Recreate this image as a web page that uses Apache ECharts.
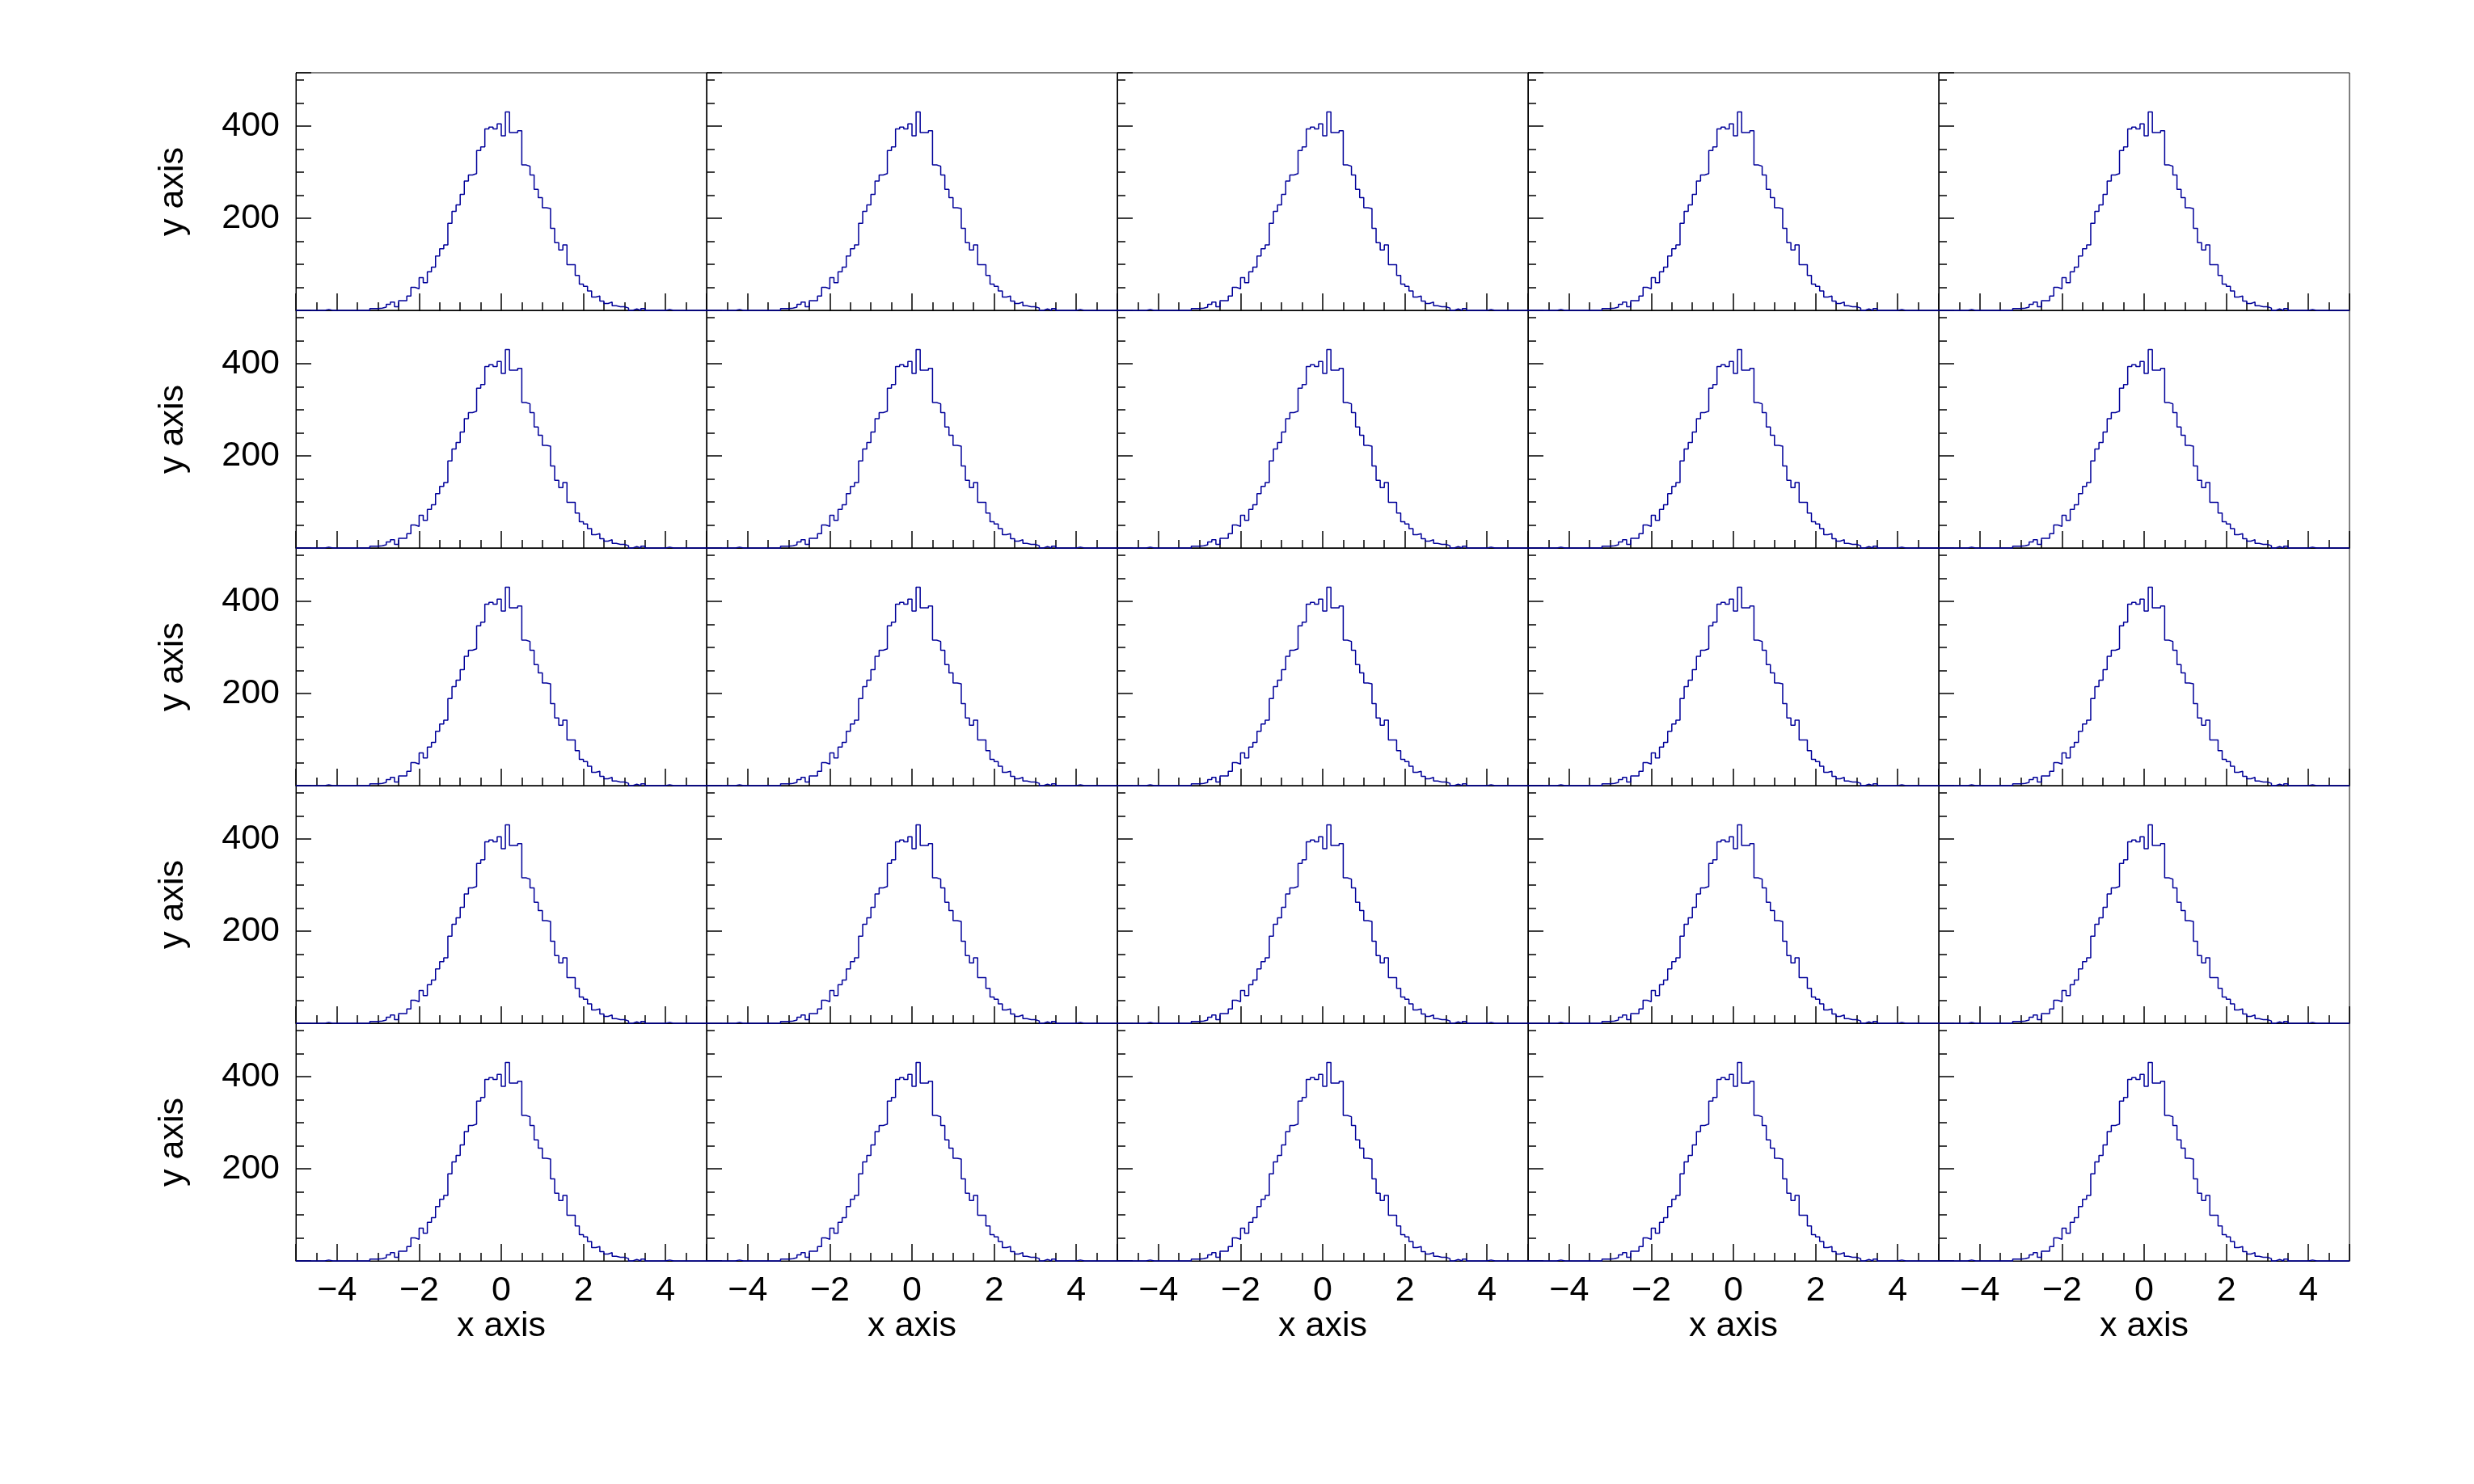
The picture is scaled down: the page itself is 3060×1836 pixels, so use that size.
<!DOCTYPE html>
<html>
<head>
<meta charset="utf-8">
<script src="https://cdn.jsdelivr.net/npm/echarts@6/dist/echarts.min.js"></script>
<style>
html,body{margin:0;padding:0;background:#fff;}
#chart{width:3060px;height:1836px;}
</style>
</head>
<body>
<div id="chart"></div>
<script>
// Histogram definition: 100 bins from -5 to 5
const binLow = -5;
const binWidth = 0.1;
// Bin contents (same histogram drawn in every pad)
const counts = [
  0,0,0,0,0,0,0,2,0,0,
  0,0,0,0,0,0,0,0,4,4,
  5,7,13,18,8,21,21,31,50,47,
  71,60,84,94,118,134,142,189,215,229,
  252,281,294,297,347,355,394,398,394,405,
  379,431,386,386,390,316,313,294,263,245,
  223,221,178,147,131,142,99,99,76,57,
  52,42,29,31,20,15,18,10,8,8,
  5,0,3,0,4,0,0,0,0,0,
  2,0,0,0,0,0,0,0,0,0
];
const xLabelValues = [-4, -2, 0, 2, 4];
const yLabelValues = [200, 400];
const xTitle = 'x axis';
const yTitle = 'y axis';
const nCols = 5, nRows = 5;

const FONT = '"Liberation Sans", Arial, Helvetica, sans-serif';
const padLeft = 366, padTop = 90, padW = 508, padH = 294;

function fmtX(v) {
  const r = Math.round(v * 100) / 100;
  if (xLabelValues.indexOf(r) < 0) return '';
  return r < 0 ? '\u2212' + (-r) : String(r);
}
function fmtY(v) {
  return yLabelValues.indexOf(Math.round(v)) >= 0 ? String(Math.round(v)) : '';
}

const histData = [];
for (let i = 0; i < counts.length; i++) {
  histData.push([Math.round((binLow + binWidth * i) * 100) / 100, counts[i]]);
}
histData.push([Math.round((binLow + binWidth * counts.length) * 100) / 100, counts[counts.length - 1]]);

const grids = [], xAxes = [], yAxes = [], series = [];
for (let r = 0; r < nRows; r++) {
  for (let c = 0; c < nCols; c++) {
    const k = r * nCols + c;
    grids.push({
      left: padLeft + c * padW, top: padTop + r * padH, width: padW, height: padH,
      show: true, borderColor: '#000', borderWidth: 1, backgroundColor: 'transparent',
      containLabel: false
    });
    const bottomRow = (r === nRows - 1);
    const leftCol = (c === 0);
    xAxes.push({
      gridIndex: k, type: 'value', min: -5, max: 5, splitNumber: 5,
      minInterval: 2, maxInterval: 2,
      axisLine: { show: true, onZero: false, lineStyle: { color: '#000', width: 1 } },
      axisTick: { show: true, inside: true, length: 21, lineStyle: { color: '#000', width: 1.5 } },
      minorTick: { show: true, splitNumber: 4, length: 10, lineStyle: { color: '#000', width: 1.5 } },
      splitLine: { show: false }, minorSplitLine: { show: false },
      axisLabel: {
        show: bottomRow, formatter: fmtX, color: '#000', fontSize: 43, fontFamily: FONT,
        margin: 16, showMinLabel: true, showMaxLabel: true
      },
      name: bottomRow ? xTitle : '', nameLocation: 'middle', nameGap: 57,
      nameTextStyle: { color: '#000', fontSize: 43, fontFamily: FONT }
    });
    yAxes.push({
      gridIndex: k, type: 'value', min: 0, max: 516, interval: 200,
      axisLine: { show: true, onZero: false, lineStyle: { color: '#000', width: 1 } },
      axisTick: { show: true, inside: true, length: 19, lineStyle: { color: '#000', width: 1.5 } },
      minorTick: { show: true, splitNumber: 4, length: 10, lineStyle: { color: '#000', width: 1.5 } },
      splitLine: { show: false }, minorSplitLine: { show: false },
      axisLabel: {
        show: leftCol, formatter: fmtY, color: '#000', fontSize: 43, fontFamily: FONT, margin: 20,
        padding: [5, 0, 0, 0]
      },
      name: leftCol ? yTitle : '', nameLocation: 'middle', nameGap: 130, nameRotate: 90,
      nameTextStyle: { color: '#000', fontSize: 43, fontFamily: FONT }
    });
    series.push({
      type: 'line', xAxisIndex: k, yAxisIndex: k, data: histData, step: 'end',
      showSymbol: false, symbol: 'none', clip: false, silent: true,
      lineStyle: { color: '#000099', width: 1.5 }
    });
  }
}

const chart = echarts.init(document.getElementById('chart'), null, { renderer: 'canvas' });
chart.setOption({
  backgroundColor: '#fff',
  animation: false,
  grid: grids, xAxis: xAxes, yAxis: yAxes, series: series
});
</script>
</body>
</html>
